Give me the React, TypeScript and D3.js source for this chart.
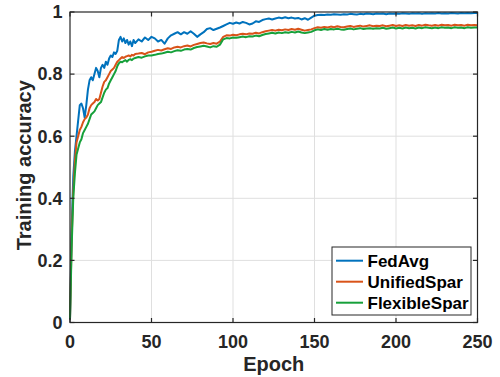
import React from "react";
import * as d3 from "d3";

// epochs: every epoch up to 40, then every second epoch
const epochs = d3.range(0, 41).concat(d3.range(42, 251, 2));

const fedAvg = [
  0.01, 0.30, 0.47, 0.55, 0.60, 0.65, 0.70, 0.705, 0.69, 0.66,
  0.70, 0.75, 0.78, 0.79, 0.78, 0.80, 0.82, 0.81, 0.79, 0.82,
  0.83, 0.82, 0.84, 0.83, 0.85, 0.86, 0.855, 0.87, 0.865, 0.875,
  0.91, 0.92, 0.905, 0.915, 0.90, 0.91, 0.895, 0.905, 0.89, 0.91,
  0.90,
  0.912, 0.905, 0.918, 0.91, 0.92, 0.915, 0.905, 0.91, 0.898, 0.915,
  0.925, 0.93, 0.935, 0.928, 0.935, 0.93, 0.938, 0.93, 0.92, 0.928,
  0.935, 0.945, 0.948, 0.942, 0.946, 0.95, 0.955, 0.96, 0.965, 0.962,
  0.966, 0.963, 0.968, 0.965, 0.96, 0.963, 0.97, 0.968, 0.974, 0.977,
  0.979, 0.976, 0.979, 0.982, 0.98, 0.983, 0.98, 0.982, 0.979, 0.981,
  0.976, 0.98, 0.975, 0.982, 0.988, 0.99, 0.991, 0.99, 0.992, 0.991,
  0.993, 0.992, 0.991, 0.993, 0.992, 0.994, 0.993, 0.992, 0.994, 0.993,
  0.995, 0.994, 0.993, 0.995, 0.994, 0.995, 0.993, 0.995, 0.994, 0.995,
  0.994, 0.996, 0.995, 0.994, 0.996, 0.995, 0.996, 0.994, 0.996, 0.995,
  0.996, 0.995, 0.997, 0.995, 0.996, 0.995, 0.997, 0.996, 0.995, 0.997,
  0.996, 0.997, 0.996, 0.997, 0.997
];

const unifiedSpar = [
  0.01, 0.27, 0.42, 0.52, 0.58, 0.60, 0.62, 0.63, 0.645, 0.655,
  0.66, 0.67, 0.69, 0.70, 0.705, 0.71, 0.72, 0.715, 0.72, 0.74,
  0.76, 0.775, 0.78, 0.79, 0.80, 0.81, 0.815, 0.82, 0.83, 0.84,
  0.845, 0.85, 0.855, 0.852, 0.856, 0.858, 0.86, 0.857, 0.862, 0.86,
  0.865,
  0.866, 0.868, 0.864, 0.87, 0.872, 0.875, 0.878, 0.876, 0.88, 0.883,
  0.881, 0.886, 0.888, 0.886, 0.89, 0.892, 0.889, 0.894, 0.897, 0.9,
  0.902, 0.899, 0.897, 0.9, 0.898, 0.905, 0.92, 0.925, 0.924, 0.927,
  0.925, 0.928, 0.93, 0.928, 0.931, 0.93, 0.933, 0.931, 0.935, 0.938,
  0.94, 0.942, 0.94, 0.943, 0.941, 0.944, 0.942, 0.945, 0.943, 0.946,
  0.943, 0.94, 0.942, 0.944, 0.948, 0.951, 0.949, 0.952, 0.95, 0.953,
  0.951, 0.954, 0.952, 0.951, 0.953, 0.955, 0.952, 0.954, 0.956, 0.953,
  0.955, 0.957, 0.954, 0.956, 0.955, 0.957, 0.954, 0.956, 0.958, 0.955,
  0.957, 0.955, 0.958, 0.956, 0.957, 0.955, 0.958, 0.956, 0.959, 0.957,
  0.956, 0.958, 0.956, 0.959, 0.957, 0.958, 0.956, 0.959, 0.957, 0.958,
  0.956, 0.959, 0.957, 0.958, 0.957
];

const flexibleSpar = [
  0.01, 0.24, 0.40, 0.48, 0.54, 0.56, 0.58, 0.59, 0.61, 0.62,
  0.63, 0.64, 0.655, 0.67, 0.675, 0.68, 0.69, 0.70, 0.705, 0.71,
  0.725, 0.74, 0.75, 0.755, 0.77, 0.78, 0.79, 0.80, 0.81, 0.825,
  0.835, 0.84, 0.838, 0.842, 0.845, 0.84, 0.846, 0.848, 0.845, 0.85,
  0.852,
  0.855, 0.853, 0.857, 0.86, 0.86, 0.862, 0.865, 0.866, 0.869, 0.872,
  0.87, 0.874, 0.877, 0.875, 0.879, 0.881, 0.879, 0.884, 0.887, 0.889,
  0.891, 0.889, 0.886, 0.89, 0.888, 0.895, 0.912, 0.916, 0.915, 0.918,
  0.917, 0.919, 0.921, 0.919, 0.922, 0.921, 0.924, 0.922, 0.926, 0.929,
  0.931, 0.933, 0.931, 0.934, 0.932, 0.935, 0.933, 0.936, 0.934, 0.937,
  0.934, 0.932, 0.934, 0.936, 0.941, 0.944, 0.942, 0.945, 0.943, 0.945,
  0.944, 0.946, 0.944, 0.943, 0.945, 0.947, 0.944, 0.946, 0.948, 0.945,
  0.947, 0.948, 0.946, 0.948, 0.947, 0.949, 0.946, 0.948, 0.95, 0.947,
  0.949, 0.947, 0.95, 0.948, 0.949, 0.947, 0.95, 0.948, 0.951, 0.949,
  0.948, 0.95, 0.948, 0.951, 0.949, 0.95, 0.948, 0.951, 0.949, 0.95,
  0.948, 0.951, 0.949, 0.95, 0.95
];

const seriesNames = ["FedAvg", "UnifiedSpar", "FlexibleSpar"];
const xTicks = [0, 50, 100, 150, 200, 250];
const yTicks = [0, 0.2, 0.4, 0.6, 0.8, 1];
const yTickLabels = ["0", "0.2", "0.4", "0.6", "0.8", "1"];

const colors = ["#0072BD", "#D95319", "#16A03A"];
const font = "'Liberation Sans', Arial, Helvetica, sans-serif";
const axisColor = "#262626";

const W = 500;
const H = 377;
const box = { left: 70, right: 477.5, top: 12, bottom: 322.5 };
const tickLen = 4.5;

export default function App() {
  const x = d3.scaleLinear().domain([0, 250]).range([box.left, box.right]);
  const y = d3.scaleLinear().domain([0, 1]).range([box.bottom, box.top]);

  const line = d3
    .line<number>()
    .x((d, i) => x(epochs[i]))
    .y(d => y(d));

  const allSeries = [fedAvg, unifiedSpar, flexibleSpar];

  // legend box
  const lg = { x: 332, y: 247, w: 139, h: 68, row: 21 };

  return (
    <svg
      width={W}
      height={H}
      style={{ position: "absolute", left: 0, top: 0, background: "#fff" }}
      fontFamily={font}
      fontWeight="bold"
    >
      <rect x={0} y={0} width={W} height={H} fill="#fff" />

      {/* grid */}
      {xTicks.slice(1, -1).map(t => (
        <line key={"gx" + t} x1={x(t)} x2={x(t)} y1={box.top} y2={box.bottom}
          stroke="#dfdfdf" strokeWidth={1} />
      ))}
      {yTicks.slice(1, -1).map(t => (
        <line key={"gy" + t} x1={box.left} x2={box.right} y1={y(t)} y2={y(t)}
          stroke="#dfdfdf" strokeWidth={1} />
      ))}

      {/* data */}
      <g fill="none" strokeWidth={2} strokeLinejoin="round">
        {allSeries.map((s, i) => (
          <path key={seriesNames[i]} d={line(s) || ""} stroke={colors[i]} />
        ))}
      </g>

      {/* axes box and ticks */}
      <g stroke={axisColor} strokeWidth={1.2}>
        <rect x={box.left} y={box.top} width={box.right - box.left}
          height={box.bottom - box.top} fill="none" />
        {xTicks.map(t => (
          <g key={"tx" + t}>
            <line x1={x(t)} x2={x(t)} y1={box.bottom} y2={box.bottom - tickLen} />
            <line x1={x(t)} x2={x(t)} y1={box.top} y2={box.top + tickLen} />
          </g>
        ))}
        {yTicks.map(t => (
          <g key={"ty" + t}>
            <line x1={box.left} x2={box.left + tickLen} y1={y(t)} y2={y(t)} />
            <line x1={box.right} x2={box.right - tickLen} y1={y(t)} y2={y(t)} />
          </g>
        ))}
      </g>

      {/* tick labels */}
      <g fill={axisColor} fontSize={18}>
        {xTicks.map(t => (
          <text key={"lx" + t} x={x(t)} y={347.5} textAnchor="middle">{t}</text>
        ))}
        {yTicks.map((t, i) => (
          <text key={"ly" + t} x={62.5} y={y(t)} dy="0.35em" textAnchor="end">
            {yTickLabels[i]}
          </text>
        ))}
      </g>

      {/* axis labels */}
      <text x={(box.left + box.right) / 2} y={371} textAnchor="middle"
        fontSize={20} fill={axisColor}>Epoch</text>
      <text transform={`translate(31,${(box.top + box.bottom) / 2 - 2}) rotate(-90)`}
        textAnchor="middle" fontSize={20} fill={axisColor}>Training accuracy</text>

      {/* legend */}
      <rect x={lg.x} y={lg.y} width={lg.w} height={lg.h} fill="#fff"
        stroke={axisColor} strokeWidth={1} />
      {seriesNames.map((name, i) => {
        const cy = lg.y + 13.7 + i * lg.row;
        return (
          <g key={"lg" + name}>
            <line x1={lg.x + 4} x2={lg.x + 31} y1={cy} y2={cy}
              stroke={colors[i]} strokeWidth={2} />
            <text x={lg.x + 35.5} y={cy} dy="0.35em" fontSize={17}
              fill="#000">{name}</text>
          </g>
        );
      })}
    </svg>
  );
}
